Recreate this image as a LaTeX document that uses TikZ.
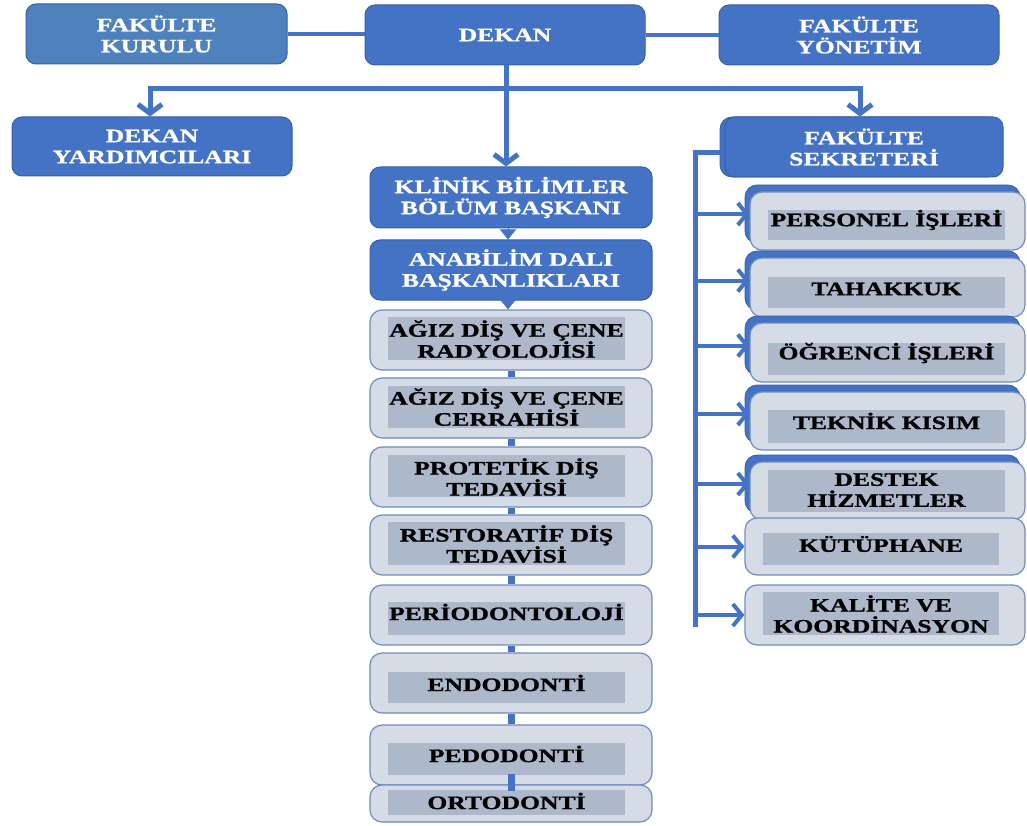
\documentclass[tikz,border=0pt]{standalone}
\usepackage{fontspec}
\setmainfont{Liberation Serif}[FakeStretch=1.35, BoldFeatures={FakeBold=1.2}]
\usetikzlibrary{arrows.meta}
\definecolor{bluefill}{HTML}{4472C4}
\definecolor{blueedge}{HTML}{3560A8}
\definecolor{kurfill}{HTML}{4F81BD}
\definecolor{grayfill}{HTML}{D6DCE5}
\definecolor{grayinner}{HTML}{ADB9CA}
\definecolor{grayedge}{HTML}{6F8CC0}
\tikzset{
  every node/.style={font=\fontsize{19}{21}\selectfont\bfseries, inner sep=0pt, align=center},
  bluebox/.style={rounded corners=10pt, fill=bluefill, draw=blueedge, line width=1pt, text=white},
  kurbox/.style={rounded corners=10pt, fill=kurfill, draw=blueedge, line width=1pt, text=white},
  backbox/.style={rounded corners=12pt, fill=bluefill, draw=blueedge, line width=0.8pt},
  graybox/.style={rounded corners=12pt, fill=grayfill, draw=grayedge, line width=1.2pt},
  innerbox/.style={fill=grayinner},
  label/.style={text=black},
  conn/.style={draw=bluefill, line width=5pt},
  downarrow/.style={draw=bluefill, line width=5pt, -{Straight Barb[length=9pt,width=24pt]}},
  rarrow/.style={draw=bluefill, line width=4pt, -{Straight Barb[length=9pt,width=22pt]}},
  tri/.style={draw=bluefill, line width=0.5pt, -{Triangle[length=10pt,width=16pt]}},
  midconn/.style={draw=bluefill, line width=7pt},
}
\begin{document}
\begin{tikzpicture}[x=1pt,y=-1pt]
\useasboundingbox (0,0) rectangle (1027,826);

% top row
\node[kurbox, minimum width=261pt, minimum height=60pt] (kurulu) at (156.5,34) {FAKÜLTE\\KURULU};
\node[bluebox, minimum width=280pt, minimum height=60pt] (dekan) at (505,35) {DEKAN};
\node[bluebox, minimum width=280pt, minimum height=60pt] (yonetim) at (859,35) {FAKÜLTE\\YÖNETİM};

% second row
\node[bluebox, minimum width=280pt, minimum height=59pt] (yard) at (152,146.5) {DEKAN\\YARDIMCILARI};
\node[backbox, minimum width=280pt, minimum height=60pt] (secrb) at (860,147) {};
\node[bluebox, minimum width=278pt, minimum height=60pt] (secr) at (864,147) {FAKÜLTE\\SEKRETERİ};

% middle column
\node[bluebox, minimum width=282pt, minimum height=61pt] (klinik) at (511,197.5) {KLİNİK BİLİMLER\\BÖLÜM BAŞKANI};
\node[bluebox, minimum width=282pt, minimum height=60pt] (anab) at (511,270) {ANABİLİM DALI\\BAŞKANLIKLARI};

\newcommand{\midbox}[7]{%
  \node[graybox, minimum width=282pt, minimum height={#3-#2}] (#1) at (511,{(#2+#3)/2}) {};
  \node[innerbox, minimum width=237pt, minimum height={#5-#4}] (#1i) at (506.5,{(#4+#5)/2}) {};
  \node[label] (#1t) at (506.5,#6) {#7};
}
\midbox{m1}{310}{370}{317}{360}{339}{AĞIZ DİŞ VE ÇENE\\RADYOLOJİSİ}
\midbox{m2}{378}{438}{386}{428}{407}{AĞIZ DİŞ VE ÇENE\\CERRAHİSİ}
\midbox{m3}{447}{507}{455}{497}{477}{PROTETİK DİŞ\\TEDAVİSİ}
\midbox{m4}{515}{575}{522}{565}{544}{RESTORATİF DİŞ\\TEDAVİSİ}
\midbox{m5}{585}{645}{602}{635}{612}{PERİODONTOLOJİ}
\midbox{m6}{653}{713}{672}{703}{683}{ENDODONTİ}
\midbox{m7}{725}{785}{743}{775}{754}{PEDODONTİ}
\midbox{m8}{785}{822}{790}{815}{801}{ORTODONTİ}

% middle connectors
\draw[midconn] (m1.south) -- (m2.north);
\draw[midconn] (m2.south) -- (m3.north);
\draw[midconn] (m3.south) -- (m4.north);
\draw[midconn] (m4.south) -- (m5.north);
\draw[midconn] (m5.south) -- (m6.north);
\draw[midconn] (m6.south) -- (m7.north);
\draw[midconn] ([yshift=-5pt]m7.south) -- ([yshift=10pt]m8.north);

% right column
\newcommand{\rbackbox}[7]{%
  \node[backbox, minimum width=275pt, minimum height={#3-#2}] (#1b) at (882.5,{(#2+#3)/2-7}) {};
  \node[graybox, minimum width=275pt, minimum height={#3-#2}] (#1) at (887.5,{(#2+#3)/2}) {};
  \node[innerbox, minimum width=237pt, minimum height={#5-#4}] (#1i) at (886.5,{(#4+#5)/2}) {};
  \node[label] (#1t) at (886.5,#6) {#7};
}
\rbackbox{p1}{192}{250}{210}{240}{220}{PERSONEL İŞLERİ}
\rbackbox{p2}{258}{317}{277}{308}{289}{TAHAKKUK}
\rbackbox{p3}{323}{382}{343}{375}{353}{ÖĞRENCİ İŞLERİ}
\rbackbox{p4}{392}{450}{410}{443}{421}{TEKNİK KISIM}
\rbackbox{p5}{462}{520}{470}{512}{490}{DESTEK\\HİZMETLER}
\node[graybox, minimum width=280pt, minimum height=57pt] (p6) at (885,546.5) {};
\node[innerbox, minimum width=236pt, minimum height=32pt] (p6i) at (881,549) {};
\node[label] (p6t) at (881,544) {KÜTÜPHANE};
\node[graybox, minimum width=280pt, minimum height=60pt] (p7) at (885,615) {};
\node[innerbox, minimum width=236pt, minimum height=43pt] (p7i) at (881,613.5) {};
\node[label] (p7t) at (881,614) {KALİTE VE\\KOORDİNASYON};

% top connectors
\draw[conn, line width=4pt] (kurulu.east) -- (kurulu.east -| dekan.west);
\draw[conn, line width=4pt] (dekan.east) -- (dekan.east -| yonetim.west);
\coordinate (hl) at (150,89);
\coordinate (hr) at (860,89);
\draw[conn] ([xshift=-2.5pt]hl) -- ([xshift=2.5pt]hr);
\draw[downarrow] (hl) -- (hl |- yard.north);
\draw[downarrow] (hr) -- (hr |- secrb.north);
\draw[downarrow] ([xshift=1pt]dekan.south) -- ([xshift=1pt]dekan.south |- klinik.north);
\draw[tri] (klinik.south -| 508,0) -- (anab.north -| 508,0);
\draw[tri] (anab.south -| 508,0) -- (m1.north -| 508,0);

% secretary trunk
\coordinate (ttop) at (695,153);
\coordinate (tbot) at (695,627);
\draw[conn] ([xshift=-2.5pt]ttop) -- (ttop -| secrb.west);
\draw[conn] (ttop) -- (tbot);
\foreach \b in {p1,p2,p3,p4,p5}{
  \draw[rarrow] (ttop |- \b b.west) -- (\b.west |- \b b.west);
}
\draw[rarrow] (ttop |- p6.west) -- (p6.west);
\draw[rarrow] (ttop |- p7.west) -- (p7.west);
\end{tikzpicture}
\end{document}
